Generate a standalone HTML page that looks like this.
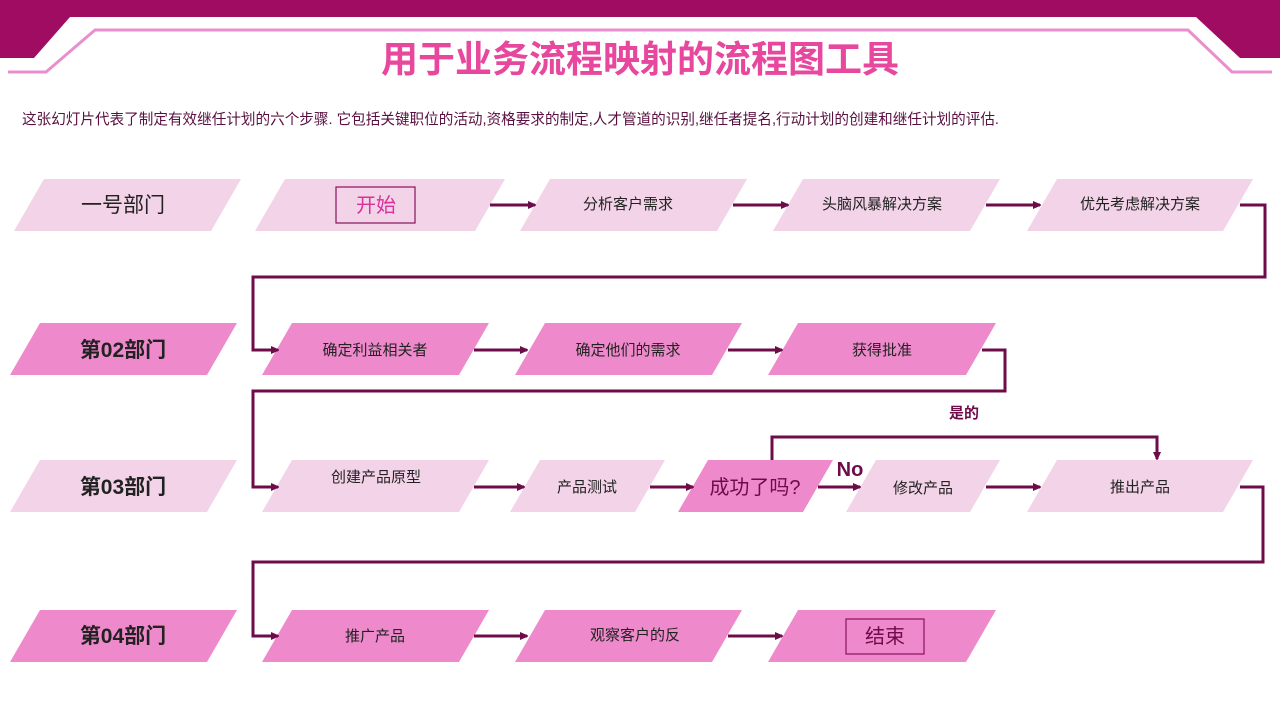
<!DOCTYPE html>
<html><head><meta charset="utf-8"><style>
html,body{margin:0;padding:0;background:#fff;width:1280px;height:720px;overflow:hidden}
svg{display:block}
text{font-family:"Liberation Sans","Noto Sans CJK SC",sans-serif}
</style></head><body>
<svg width="1280" height="720" viewBox="0 0 1280 720" xmlns="http://www.w3.org/2000/svg">
<defs><marker id="a" markerWidth="8" markerHeight="8" refX="7" refY="4" orient="auto" markerUnits="userSpaceOnUse"><path d="M0,0 L9,4 L0,8 z" fill="#6E0C4A"/></marker></defs>
<polygon points="0,0 1280,0 1280,58 1240,58 1196,17 70,17 34,58 0,58" fill="#A00C62"/>
<polyline points="8,72 46,72 95,30 1188,30 1232,72 1272,72" fill="none" stroke="#EA8FCD" stroke-width="3"/>
<text x="640" y="72" text-anchor="middle" font-size="37" font-weight="bold" fill="#E8479E">用于业务流程映射的流程图工具</text>
<text x="22" y="124" font-size="14.6" fill="#5A1040">这张幻灯片代表了制定有效继任计划的六个步骤. 它包括关键职位的活动,资格要求的制定,人才管道的识别,继任者提名,行动计划的创建和继任计划的评估.</text>
<g>
<polygon points="14,231 44,179 241,179 211,231" fill="#F2D3E7"/>
<polygon points="255,231 285,179 505,179 475,231" fill="#F2D3E7"/>
<polygon points="520,231 550,179 747,179 717,231" fill="#F2D3E7"/>
<polygon points="773,231 803,179 1000,179 970,231" fill="#F2D3E7"/>
<polygon points="1027,231 1057,179 1253,179 1223,231" fill="#F2D3E7"/>
<polygon points="10,375 40,323 237,323 207,375" fill="#EE8ACB"/>
<polygon points="262,375 292,323 489,323 459,375" fill="#EE8ACB"/>
<polygon points="515,375 545,323 742,323 712,375" fill="#EE8ACB"/>
<polygon points="768,375 798,323 996,323 966,375" fill="#EE8ACB"/>
<polygon points="10,512 40,460 237,460 207,512" fill="#F2D3E7"/>
<polygon points="262,512 292,460 489,460 459,512" fill="#F2D3E7"/>
<polygon points="510,512 540,460 665,460 635,512" fill="#F2D3E7"/>
<polygon points="678,512 708,460 833,460 803,512" fill="#EE8ACB"/>
<polygon points="846,512 876,460 1000,460 970,512" fill="#F2D3E7"/>
<polygon points="1027,512 1057,460 1253,460 1223,512" fill="#F2D3E7"/>
<polygon points="10,662 40,610 237,610 207,662" fill="#EE8ACB"/>
<polygon points="262,662 292,610 489,610 459,662" fill="#EE8ACB"/>
<polygon points="515,662 545,610 742,610 712,662" fill="#EE8ACB"/>
<polygon points="768,662 798,610 996,610 966,662" fill="#EE8ACB"/>
</g>
<rect x="336" y="187" width="79" height="36" fill="none" stroke="#8A1060" stroke-width="1.2"/>
<rect x="846" y="619" width="78" height="35" fill="none" stroke="#8A1060" stroke-width="1.2"/>
<g fill="none" stroke="#6E0C4A" stroke-width="3">
<line x1="490" y1="205" x2="535" y2="205" marker-end="url(#a)"/>
<line x1="733" y1="205" x2="788" y2="205" marker-end="url(#a)"/>
<line x1="986" y1="205" x2="1040" y2="205" marker-end="url(#a)"/>
<polyline points="1240,205 1265,205 1265,277 253,277 253,350 278,350" marker-end="url(#a)"/>
<line x1="474" y1="350" x2="527" y2="350" marker-end="url(#a)"/>
<line x1="728" y1="350" x2="782" y2="350" marker-end="url(#a)"/>
<polyline points="982,350 1005,350 1005,391 253,391 253,487 278,487" marker-end="url(#a)"/>
<line x1="474" y1="487" x2="524" y2="487" marker-end="url(#a)"/>
<line x1="650" y1="487" x2="693" y2="487" marker-end="url(#a)"/>
<line x1="818" y1="487" x2="860" y2="487" marker-end="url(#a)"/>
<line x1="986" y1="487" x2="1040" y2="487" marker-end="url(#a)"/>
<polyline points="772,460 772,437 1157,437 1157,459" marker-end="url(#a)"/>
<polyline points="1240,487 1263,487 1263,562 253,562 253,636 278,636" marker-end="url(#a)"/>
<line x1="474" y1="636" x2="527" y2="636" marker-end="url(#a)"/>
<line x1="728" y1="636" x2="782" y2="636" marker-end="url(#a)"/>
</g>
<g font-size="15" fill="#222" text-anchor="middle">
<text x="123" y="212" font-size="21">一号部门</text>
<text x="376" y="212" font-size="20" fill="#D9329A">开始</text>
<text x="628" y="209">分析客户需求</text>
<text x="882" y="209">头脑风暴解决方案</text>
<text x="1140" y="209">优先考虑解决方案</text>
<text x="123" y="357" font-size="21" font-weight="bold">第02部门</text>
<text x="375" y="355">确定利益相关者</text>
<text x="628" y="355">确定他们的需求</text>
<text x="882" y="355">获得批准</text>
<text x="123" y="494" font-size="21" font-weight="bold">第03部门</text>
<text x="376" y="482">创建产品原型</text>
<text x="587" y="492">产品测试</text>
<text x="755" y="494" font-size="20" fill="#6E0C4A">成功了吗?</text>
<text x="923" y="493">修改产品</text>
<text x="1140" y="492">推出产品</text>
<text x="123" y="643" font-size="21" font-weight="bold">第04部门</text>
<text x="375" y="641">推广产品</text>
<text x="635" y="640">观察客户的反</text>
<text x="885" y="643" font-size="20" fill="#6E0C4A">结束</text>
<text x="850" y="476" font-size="20" font-weight="bold" fill="#6E0C4A">No</text>
<text x="964" y="418" font-size="15" font-weight="bold" fill="#6E0C4A">是的</text>
</g>
</svg>
</body></html>
